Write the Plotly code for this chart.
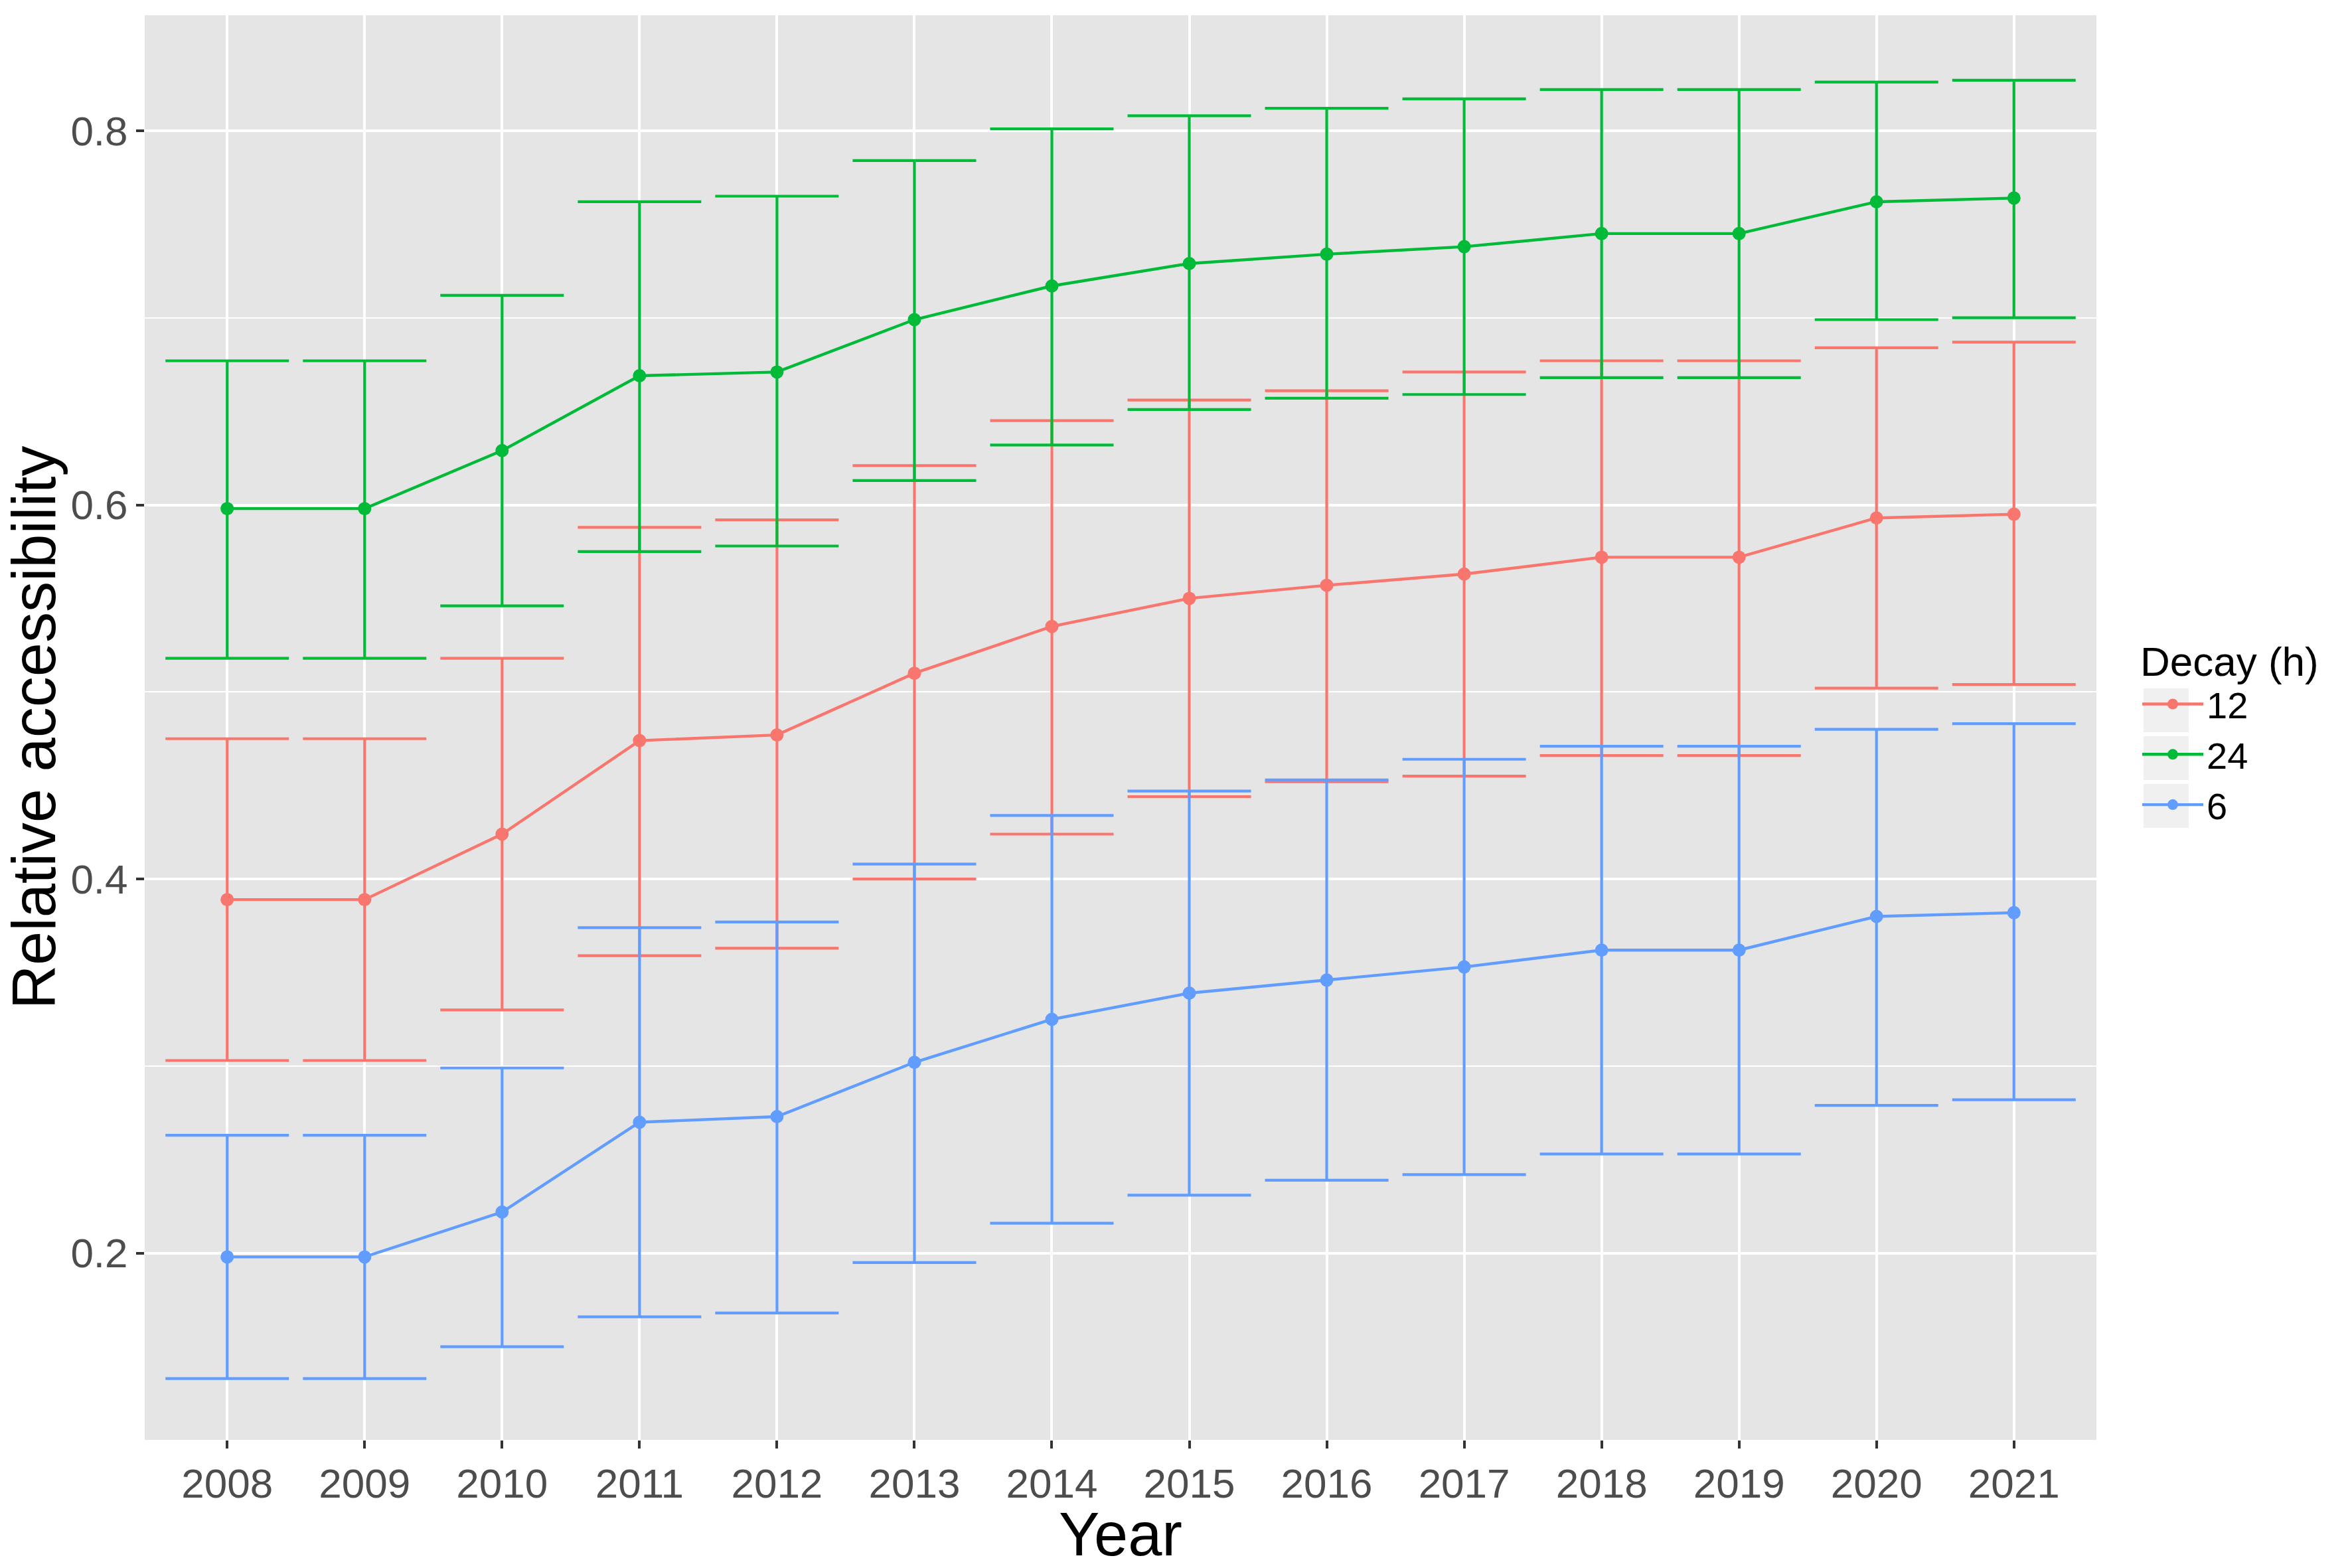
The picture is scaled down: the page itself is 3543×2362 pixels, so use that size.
import plotly.graph_objects as go

years = [str(y) for y in range(2008, 2022)]
decay_labels = ["12", "24", "6"]
colors = ["#F8766D", "#00BA38", "#619CFF"]

mean_12 = [0.389, 0.389, 0.424, 0.474, 0.477, 0.510, 0.535, 0.550, 0.557, 0.563, 0.572, 0.572, 0.593, 0.595]
upper_12 = [0.475, 0.475, 0.518, 0.588, 0.592, 0.621, 0.645, 0.656, 0.661, 0.671, 0.677, 0.677, 0.684, 0.687]
lower_12 = [0.303, 0.303, 0.330, 0.359, 0.363, 0.400, 0.424, 0.444, 0.452, 0.455, 0.466, 0.466, 0.502, 0.504]

mean_24 = [0.598, 0.598, 0.629, 0.669, 0.671, 0.699, 0.717, 0.729, 0.734, 0.738, 0.745, 0.745, 0.762, 0.764]
upper_24 = [0.677, 0.677, 0.712, 0.762, 0.765, 0.784, 0.801, 0.808, 0.812, 0.817, 0.822, 0.822, 0.826, 0.827]
lower_24 = [0.518, 0.518, 0.546, 0.575, 0.578, 0.613, 0.632, 0.651, 0.657, 0.659, 0.668, 0.668, 0.699, 0.700]

mean_6 = [0.198, 0.198, 0.222, 0.270, 0.273, 0.302, 0.325, 0.339, 0.346, 0.353, 0.362, 0.362, 0.380, 0.382]
upper_6 = [0.263, 0.263, 0.299, 0.374, 0.377, 0.408, 0.434, 0.447, 0.453, 0.464, 0.471, 0.471, 0.480, 0.483]
lower_6 = [0.133, 0.133, 0.150, 0.166, 0.168, 0.195, 0.216, 0.231, 0.239, 0.242, 0.253, 0.253, 0.279, 0.282]

series = [
    (decay_labels[0], mean_12, upper_12, lower_12, colors[0]),
    (decay_labels[1], mean_24, upper_24, lower_24, colors[1]),
    (decay_labels[2], mean_6, upper_6, lower_6, colors[2]),
]

FONT = "Liberation Sans, Arial, sans-serif"
W, H = 3543, 2362
ML, MR, MT, MB = 218, 385, 23, 193
PW, PH = W - ML - MR, H - MT - MB

fig = go.Figure()
for name, m, up, lo, col in series:
    fig.add_trace(go.Scatter(
        x=years, y=m, name=name, mode="lines+markers",
        line=dict(color=col, width=4.4),
        marker=dict(color=col, size=20),
        error_y=dict(
            type="data", symmetric=False,
            array=[u - v for u, v in zip(up, m)],
            arrayminus=[v - l for v, l in zip(m, lo)],
            color=col, thickness=4.2, width=93,
        ),
    ))

# grey legend key backgrounds (ggplot style), placed behind the native legend
key_px = [(1037, 1103), (1109, 1175), (1181, 1247)]
for y0, y1 in key_px:
    fig.add_shape(
        type="rect", xref="paper", yref="paper",
        x0=(3229 - ML) / PW, x1=(3297 - ML) / PW,
        y0=(H - MB - y1) / PH, y1=(H - MB - y0) / PH,
        fillcolor="#F0F0F0", line=dict(width=0), layer="above",
    )

fig.update_layout(
    width=W, height=H,
    paper_bgcolor="white", plot_bgcolor="#E5E5E5",
    margin=dict(l=ML, r=MR, t=MT, b=MB, autoexpand=False),
    font=dict(family=FONT, size=62, color="black"),
    legend=dict(
        title=dict(text="Decay (h)", font=dict(size=62, color="black")),
        font=dict(size=56, color="black"),
        x=(3222 - ML) / PW, xanchor="left", y=0.5, yanchor="middle",
        bgcolor="rgba(0,0,0,0)", itemwidth=92, tracegroupgap=0,
    ),
    showlegend=True,
)

fig.update_xaxes(
    type="category", range=[-0.6, 13.6],
    showgrid=True, gridcolor="white", gridwidth=3.5,
    ticks="outside", ticklen=12, tickwidth=3.5, tickcolor="#333333",
    tickfont=dict(size=62, color="#4D4D4D", family=FONT),
    title=dict(text="Year", font=dict(size=92, color="black", family=FONT), standoff=2),
    zeroline=False, showline=False,
)
fig.update_yaxes(
    range=[0.1002, 0.8617],
    tickmode="array", tickvals=[0.2, 0.4, 0.6, 0.8], ticktext=["0.2", "0.4", "0.6", "0.8"],
    showgrid=True, gridcolor="white", gridwidth=3.5,
    minor=dict(tickmode="array", tickvals=[0.3, 0.5, 0.7], showgrid=True,
               gridcolor="white", gridwidth=1.7, ticks=""),
    ticks="outside", ticklen=12, tickwidth=3.5, tickcolor="#333333",
    tickfont=dict(size=62, color="#4D4D4D", family=FONT),
    title=dict(text="Relative accessibility", font=dict(size=92, color="black", family=FONT), standoff=4),
    zeroline=False, showline=False,
)

fig.write_html(
    "out.html",
    config={"displayModeBar": False},
    post_script="document.body.style.margin='0';document.body.style.overflow='hidden';",
)
